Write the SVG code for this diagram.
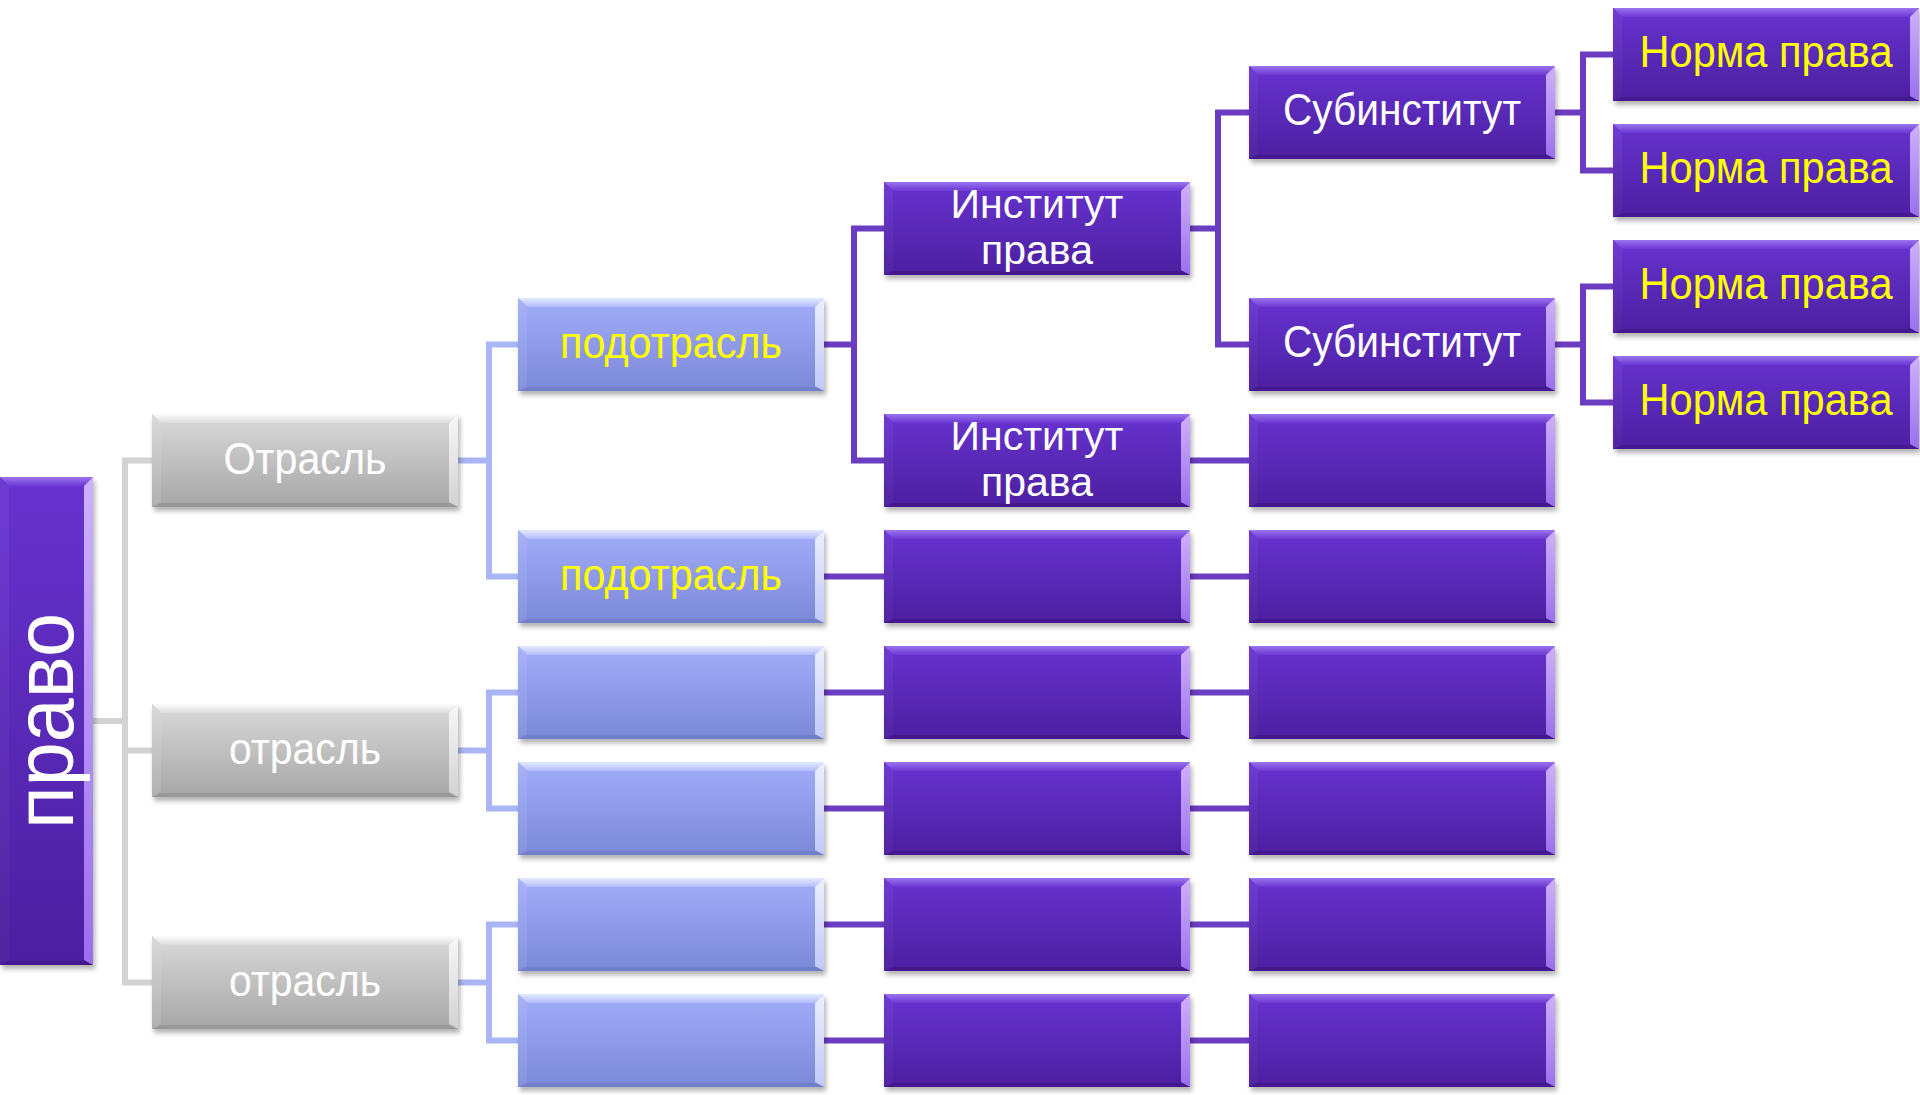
<svg xmlns="http://www.w3.org/2000/svg" xmlns:xlink="http://www.w3.org/1999/xlink" width="1920" height="1095" viewBox="0 0 1920 1095">
<style>
  text { font-family: "Liberation Sans", Arial, sans-serif; font-size: 44px; text-anchor: middle; }
  .w { fill: #ffffff; }
  .y { fill: #ffff00; }
  .inst { font-size: 41px; }
  .grey-c { fill: none; stroke: #d3d3d3; stroke-width: 6; }
  .blue-c { fill: none; stroke: #a9b5f5; stroke-width: 6; }
  .purp-c { fill: none; stroke: #6a3cc2; stroke-width: 6; }
</style>
<defs>
  <filter id="sh" x="-10%" y="-20%" width="120%" height="150%">
    <feGaussianBlur stdDeviation="2.5"/>
  </filter>
  <linearGradient id="pFace" x1="0" y1="0" x2="0" y2="1"><stop offset="0" stop-color="#6633cf"/><stop offset="1" stop-color="#4c1fa0"/></linearGradient>
  <linearGradient id="pTop" x1="0" y1="0" x2="0" y2="1"><stop offset="0" stop-color="#9a74ee"/><stop offset="1" stop-color="#6c38d4"/></linearGradient>
  <linearGradient id="pLeft" x1="0" y1="0" x2="0" y2="1"><stop offset="0" stop-color="#6e3cd4"/><stop offset="1" stop-color="#51249f"/></linearGradient>
  <linearGradient id="pRight" x1="0" y1="0" x2="0" y2="1"><stop offset="0" stop-color="#cfb0ff"/><stop offset="1" stop-color="#9a70ec"/></linearGradient>
  <linearGradient id="bFace" x1="0" y1="0" x2="0" y2="1"><stop offset="0" stop-color="#a3aefb"/><stop offset="1" stop-color="#7b88d5"/></linearGradient>
  <linearGradient id="bTop" x1="0" y1="0" x2="0" y2="1"><stop offset="0" stop-color="#e6eaff"/><stop offset="1" stop-color="#b0bbfc"/></linearGradient>
  <linearGradient id="bLeft" x1="0" y1="0" x2="0" y2="1"><stop offset="0" stop-color="#a7b2f8"/><stop offset="1" stop-color="#8592de"/></linearGradient>
  <linearGradient id="bRight" x1="0" y1="0" x2="0" y2="1"><stop offset="0" stop-color="#eef0ff"/><stop offset="1" stop-color="#bfc8f8"/></linearGradient>
  <linearGradient id="gFace" x1="0" y1="0" x2="0" y2="1"><stop offset="0" stop-color="#dadada"/><stop offset="1" stop-color="#a6a6a6"/></linearGradient>
  <linearGradient id="gTop" x1="0" y1="0" x2="0" y2="1"><stop offset="0" stop-color="#fcfcfc"/><stop offset="1" stop-color="#dcdcdc"/></linearGradient>
  <linearGradient id="gLeft" x1="0" y1="0" x2="0" y2="1"><stop offset="0" stop-color="#dadada"/><stop offset="1" stop-color="#b0b0b0"/></linearGradient>
  <linearGradient id="gRight" x1="0" y1="0" x2="0" y2="1"><stop offset="0" stop-color="#f8f8f8"/><stop offset="1" stop-color="#d2d2d2"/></linearGradient>

  <g id="boxP">
    <rect x="2" y="4" width="306" height="93" fill="#000" opacity="0.3" filter="url(#sh)"/>
    <rect width="306" height="93" fill="url(#pFace)"/>
    <polygon points="0,0 306,0 297,9 9,9" fill="url(#pTop)"/>
    <polygon points="0,0 9,9 9,88 0,93" fill="url(#pLeft)"/>
    <polygon points="306,0 306,93 297,88 297,9" fill="url(#pRight)"/>
    <polygon points="0,93 9,89 297,89 306,93" fill="#44198f"/>
  </g>
  <g id="boxB">
    <rect x="2" y="4" width="306" height="93" fill="#000" opacity="0.3" filter="url(#sh)"/>
    <rect width="306" height="93" fill="url(#bFace)"/>
    <polygon points="0,0 306,0 297,9 9,9" fill="url(#bTop)"/>
    <polygon points="0,0 9,9 9,88 0,93" fill="url(#bLeft)"/>
    <polygon points="306,0 306,93 297,88 297,9" fill="url(#bRight)"/>
    <polygon points="0,93 9,89 297,89 306,93" fill="#7280cc"/>
  </g>
  <g id="boxG">
    <rect x="2" y="4" width="306" height="93" fill="#000" opacity="0.3" filter="url(#sh)"/>
    <rect width="306" height="93" fill="url(#gFace)"/>
    <polygon points="0,0 306,0 297,9 9,9" fill="url(#gTop)"/>
    <polygon points="0,0 9,9 9,88 0,93" fill="url(#gLeft)"/>
    <polygon points="306,0 306,93 297,88 297,9" fill="url(#gRight)"/>
    <polygon points="0,93 9,89 297,89 306,93" fill="#999999"/>
  </g>
</defs>

<rect width="1920" height="1095" fill="#ffffff"/>

<g id="connectors">
  <path class="grey-c" d="M93,721H125 M152,460.5H125V982.5H152 M125,750.5H152"/>
  <path class="blue-c" d="M458,460.5H489 M518,344.5H489V576.5H518 M458,750.5H489 M518,692.5H489V808.5H518 M458,982.5H489 M518,924.5H489V1040.5H518"/>
  <path class="purp-c" d="M824,344.5H854 M884,228.5H854V460.5H884 M824,576.5H884 M824,692.5H884 M824,808.5H884 M824,924.5H884 M824,1040.5H884"/>
  <path class="purp-c" d="M1190,228.5H1218 M1249,112.5H1218V344.5H1249 M1190,460.5H1249 M1190,576.5H1249 M1190,692.5H1249 M1190,808.5H1249 M1190,924.5H1249 M1190,1040.5H1249"/>
  <path class="purp-c" d="M1555,112.5H1583 M1613,54.5H1583V170.5H1613 M1555,344.5H1583 M1613,286.5H1583V402.5H1613"/>
</g>

<g id="pravo">
  <rect x="2" y="481" width="93" height="488" fill="#000" opacity="0.3" filter="url(#sh)"/>
  <rect x="0" y="477" width="93" height="488" fill="url(#pFace)"/>
  <polygon points="0,477 93,477 84,486 9,486" fill="url(#pTop)"/>
  <polygon points="0,477 9,486 9,960 0,965" fill="url(#pLeft)"/>
  <polygon points="93,477 93,965 84,960 84,486" fill="url(#pRight)"/>
  <polygon points="0,965 9,961 84,961 93,965" fill="#44198f"/>
  <text class="w" x="0" y="0" transform="translate(73,721) rotate(-90)" style="font-size:84px" textLength="216" lengthAdjust="spacingAndGlyphs">право</text>
</g>

<g id="otrasl1"><use href="#boxG" x="152" y="414"/><text class="w" x="305" y="474" textLength="163" lengthAdjust="spacingAndGlyphs">Отрасль</text></g>
<g id="otrasl2"><use href="#boxG" x="152" y="704"/><text class="w" x="305" y="764" textLength="152" lengthAdjust="spacingAndGlyphs">отрасль</text></g>
<g id="otrasl3"><use href="#boxG" x="152" y="936"/><text class="w" x="305" y="996" textLength="152" lengthAdjust="spacingAndGlyphs">отрасль</text></g>

<g id="podotrasl1"><use href="#boxB" x="518" y="298"/><text class="y" x="671" y="358" textLength="222" lengthAdjust="spacingAndGlyphs">подотрасль</text></g>
<g id="podotrasl2"><use href="#boxB" x="518" y="530"/><text class="y" x="671" y="590" textLength="222" lengthAdjust="spacingAndGlyphs">подотрасль</text></g>
<g id="c2r6"><use href="#boxB" x="518" y="646"/></g>
<g id="c2r8"><use href="#boxB" x="518" y="762"/></g>
<g id="c2r10"><use href="#boxB" x="518" y="878"/></g>
<g id="c2r12"><use href="#boxB" x="518" y="994"/></g>

<g id="institut1"><use href="#boxP" x="884" y="182"/><text class="w inst" x="1037" y="218">Институт</text><text class="w inst" x="1037" y="264">права</text></g>
<g id="institut2"><use href="#boxP" x="884" y="414"/><text class="w inst" x="1037" y="450">Институт</text><text class="w inst" x="1037" y="496">права</text></g>
<g id="c3r4"><use href="#boxP" x="884" y="530"/></g>
<g id="c3r6"><use href="#boxP" x="884" y="646"/></g>
<g id="c3r8"><use href="#boxP" x="884" y="762"/></g>
<g id="c3r10"><use href="#boxP" x="884" y="878"/></g>
<g id="c3r12"><use href="#boxP" x="884" y="994"/></g>

<g id="subinstitut1"><use href="#boxP" x="1249" y="66"/><text class="w" x="1402" y="125" textLength="238" lengthAdjust="spacingAndGlyphs">Субинститут</text></g>
<g id="subinstitut2"><use href="#boxP" x="1249" y="298"/><text class="w" x="1402" y="357" textLength="238" lengthAdjust="spacingAndGlyphs">Субинститут</text></g>
<g id="c4r2"><use href="#boxP" x="1249" y="414"/></g>
<g id="c4r4"><use href="#boxP" x="1249" y="530"/></g>
<g id="c4r6"><use href="#boxP" x="1249" y="646"/></g>
<g id="c4r8"><use href="#boxP" x="1249" y="762"/></g>
<g id="c4r10"><use href="#boxP" x="1249" y="878"/></g>
<g id="c4r12"><use href="#boxP" x="1249" y="994"/></g>

<g id="norma1"><use href="#boxP" x="1613" y="8"/><text class="y" x="1766" y="67" textLength="253" lengthAdjust="spacingAndGlyphs">Норма права</text></g>
<g id="norma2"><use href="#boxP" x="1613" y="124"/><text class="y" x="1766" y="183" textLength="253" lengthAdjust="spacingAndGlyphs">Норма права</text></g>
<g id="norma3"><use href="#boxP" x="1613" y="240"/><text class="y" x="1766" y="299" textLength="253" lengthAdjust="spacingAndGlyphs">Норма права</text></g>
<g id="norma4"><use href="#boxP" x="1613" y="356"/><text class="y" x="1766" y="415" textLength="253" lengthAdjust="spacingAndGlyphs">Норма права</text></g>
</svg>
